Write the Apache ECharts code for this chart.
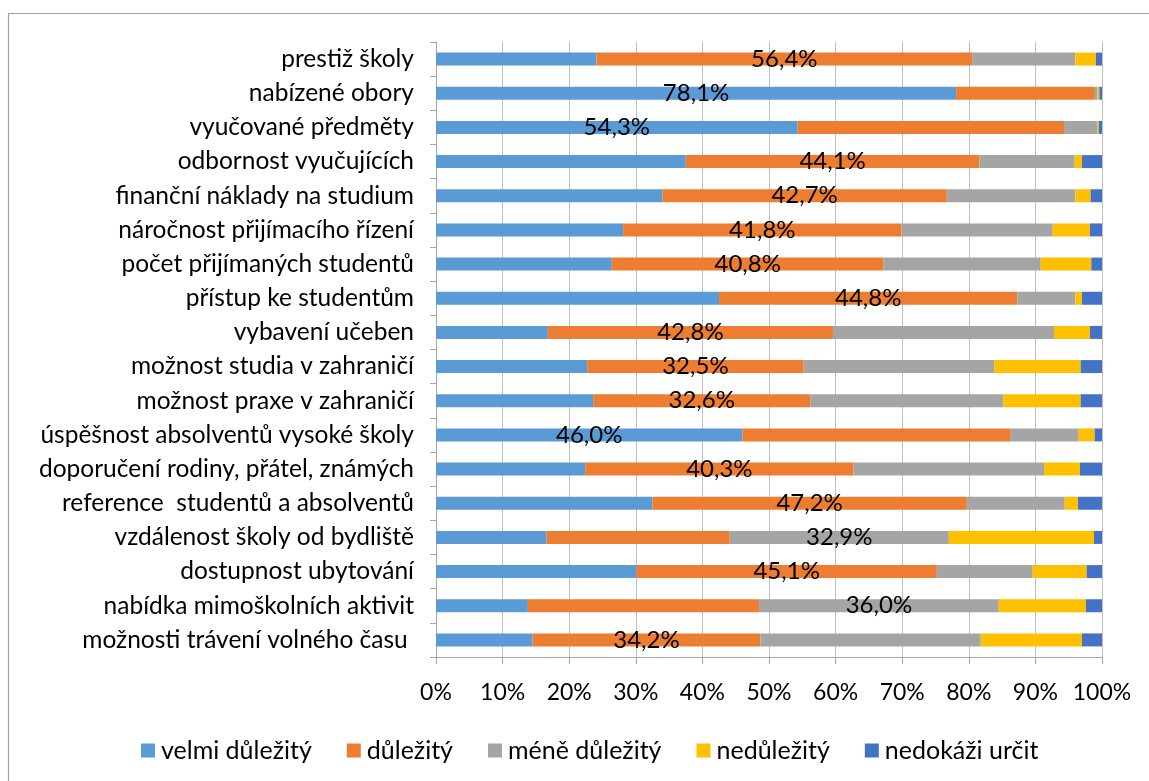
<!DOCTYPE html>
<html>
<head>
<meta charset="utf-8">
<script src="https://cdn.jsdelivr.net/npm/echarts@6/dist/echarts.min.js"></script>
<style>
  html, body { margin: 0; padding: 0; background: #fff; }
  #chart { width: 1149px; height: 781px; }
</style>
</head>
<body>
<div id="chart"></div>
<script>
// Factors for choosing a university, share of answers in percent
const categories = [
  'prestiž školy',
  'nabízené obory',
  'vyučované předměty',
  'odbornost vyučujících',
  'finanční náklady na studium',
  'náročnost přijímacího řízení',
  'počet přijímaných studentů',
  'přístup ke studentům',
  'vybavení učeben',
  'možnost studia v zahraničí',
  'možnost praxe v zahraničí',
  'úspěšnost absolventů vysoké školy',
  'doporučení rodiny, přátel, známých',
  'reference  studentů a absolventů',
  'vzdálenost školy od bydliště',
  'dostupnost ubytování',
  'nabídka mimoškolních aktivit',
  'možnosti trávení volného času '
];

const seriesNames = ['velmi důležitý', 'důležitý', 'méně důležitý', 'nedůležitý', 'nedokáži určit'];

const velmiDulezity = [24.1, 78.1, 54.3, 37.5, 34.0, 28.1, 26.4, 42.5, 16.8, 22.7, 23.6, 46.0, 22.4, 32.5, 16.6, 30.1, 13.8, 14.5];
const dulezity      = [56.4, 20.7, 40.0, 44.1, 42.7, 41.8, 40.8, 44.8, 42.8, 32.5, 32.6, 40.3, 40.3, 47.2, 27.5, 45.1, 34.7, 34.2];
const meneDulezity  = [15.5, 0.5, 5.0, 14.3, 19.3, 22.7, 23.6, 8.7, 33.2, 28.6, 29.0, 10.2, 28.6, 14.7, 32.9, 14.4, 36.0, 33.1];
const nedulezity    = [3.1, 0.3, 0.2, 1.1, 2.3, 5.6, 7.6, 1.0, 5.4, 13.0, 11.6, 2.4, 5.4, 2.0, 21.8, 8.1, 13.1, 15.2];
const nedokaziUrcit = [0.9, 0.4, 0.5, 3.0, 1.7, 1.8, 1.6, 3.0, 1.8, 3.2, 3.2, 1.1, 3.3, 3.6, 1.2, 2.3, 2.4, 3.0];

const xTicks = [0, 10, 20, 30, 40, 50, 60, 70, 80, 90, 100];

const values = [velmiDulezity, dulezity, meneDulezity, nedulezity, nedokaziUrcit];
const colors = ['#5B9BD5', '#ED7D31', '#A5A5A5', '#FFC000', '#4472C4'];

const FONT = 'Lato';

// the largest answer in each row carries a value label
const maxIndex = categories.map((_, r) => {
  let best = 0;
  values.forEach((arr, s) => { if (arr[r] > values[best][r]) best = s; });
  return best;
});

const fmt = v => v.toFixed(1).replace('.', ',') + '%';

const series = seriesNames.map((name, s) => ({
  name,
  type: 'bar',
  stack: 'total',
  barWidth: 13,
  itemStyle: { color: colors[s] },
  emphasis: { disabled: true },
  data: values[s].map((v, r) => ({
    value: v,
    label: {
      show: maxIndex[r] === s,
      position: 'inside',
      formatter: p => fmt(p.value),
      color: '#000',
      fontFamily: FONT,
      fontSize: 24
    }
  }))
}));

const chart = echarts.init(document.getElementById('chart'), null, { renderer: 'canvas' });
chart.setOption({
  animation: false,
  backgroundColor: '#fff',
  graphic: [{
    type: 'rect',
    shape: { x: 8.5, y: 13.5, width: 1200, height: 820 },
    style: { fill: 'none', stroke: '#a0a0a0', lineWidth: 1.2 },
    silent: true,
    z: -10
  }],
  grid: { left: 436, right: 47, top: 42, bottom: 124 },
  legend: {
    data: seriesNames,
    left: 136,
    top: 733,
    icon: 'rect',
    itemWidth: 14,
    itemHeight: 14,
    itemGap: 35,
    textStyle: { fontFamily: FONT, fontSize: 25, color: '#000', padding: [0, 0, 0, 1] }
  },
  xAxis: {
    type: 'value',
    min: xTicks[0],
    max: xTicks[xTicks.length - 1],
    interval: xTicks[1] - xTicks[0],
    axisLine: { show: true, lineStyle: { color: '#a6a6a6', width: 1 } },
    axisTick: { show: true, length: 7, lineStyle: { color: '#a6a6a6' } },
    splitLine: { show: true, lineStyle: { color: '#bfbfbf', width: 1 } },
    axisLabel: {
      formatter: '{value}%',
      fontFamily: FONT,
      fontSize: 23,
      color: '#000',
      margin: 24
    }
  },
  yAxis: {
    type: 'category',
    inverse: true,
    data: categories,
    axisLine: { show: true, lineStyle: { color: '#a6a6a6', width: 1 } },
    axisTick: { show: true, length: 6, alignWithLabel: false, lineStyle: { color: '#a6a6a6' } },
    splitLine: { show: false },
    axisLabel: {
      fontFamily: FONT,
      fontSize: 24.5,
      color: '#000',
      margin: 22
    }
  },
  series
});
</script>
</body>
</html>
